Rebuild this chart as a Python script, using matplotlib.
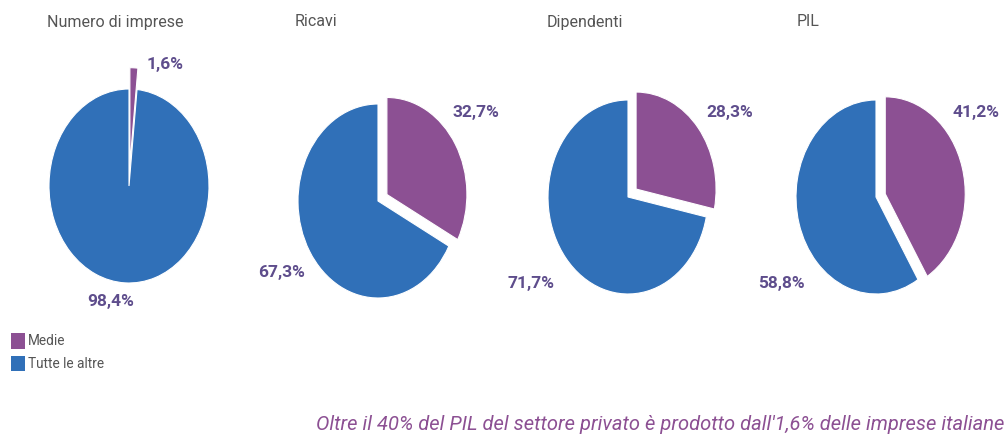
import matplotlib
matplotlib.use('Agg')
import matplotlib.pyplot as plt
from matplotlib.patches import Patch

plt.rcParams['font.family'] = ['Roboto', 'DejaVu Sans']

# data
titles = ['Numero di imprese', 'Ricavi', 'Dipendenti', 'PIL']
medie = [1.6, 32.7, 28.3, 41.2]
altre = [98.4, 67.3, 71.7, 58.8]
legend_labels = ['Medie', 'Tutte le altre']
caption = "Oltre il 40% del PIL del settore privato è prodotto dall'1,6% delle imprese italiane"

purple = '#8c5093'
blue = '#3070b8'
lab_col = '#5e4d8c'
grey = '#555555'

# layout (pixels), pie centres and label offsets in radius units
W, H = 1008, 441
centres = [(129, 186), (378, 201), (628, 197), (876, 197)]
explode = [0.22, 0.13, 0.13, 0.12]
lab_m = [(0.45, 1.25), (1.22, 0.91), (1.27, 0.87), (1.25, 0.87)]
lab_a = [(-0.23, -1.19), (-1.21, -0.74), (-1.21, -0.89), (-1.18, -0.89)]
title_x = [47, 295, 547, 797]
rx, ry = 80, 97

def fmt(v):
    return ('%.1f%%' % v).replace('.', ',')

fig = plt.figure(figsize=(W / 100, H / 100), dpi=100)

for i in range(4):
    cx, cy = centres[i]
    ax = fig.add_axes([(cx - 1.5 * rx) / W, (H - cy - 1.5 * ry) / H, 3 * rx / W, 3 * ry / H])
    ax.pie([medie[i], altre[i]], colors=[purple, blue], startangle=90, counterclock=False,
           explode=[explode[i], 0], wedgeprops=dict(edgecolor='white', linewidth=0.8))
    ax.set_aspect('auto')
    ax.set_xlim(-1.5, 1.5)
    ax.set_ylim(-1.5, 1.5)
    ax.axis('off')
    ax.text(lab_m[i][0], lab_m[i][1], fmt(medie[i]), ha='center', va='center',
            fontsize=12.5, fontweight='bold', color=lab_col)
    ax.text(lab_a[i][0], lab_a[i][1], fmt(altre[i]), ha='center', va='center',
            fontsize=12.5, fontweight='bold', color=lab_col)
    fig.text(title_x[i] / W, 1 - 22 / H, titles[i], ha='left', va='center',
             fontsize=11.5, color=grey)

handles = [Patch(facecolor=purple), Patch(facecolor=blue)]
fig.legend(handles, legend_labels, loc='upper left', bbox_to_anchor=(11 / W, 1 - 333 / H),
           frameon=False, fontsize=9.8, labelcolor=grey, handlelength=1.0, handleheight=1.4,
           handletextpad=0.25, labelspacing=0.5, borderaxespad=0, borderpad=0)

fig.text(1004 / W, 1 - 425 / H, caption, ha='right', va='center', fontsize=14.5,
         style='italic', color=purple)

fig.savefig('out.png', dpi=100)
